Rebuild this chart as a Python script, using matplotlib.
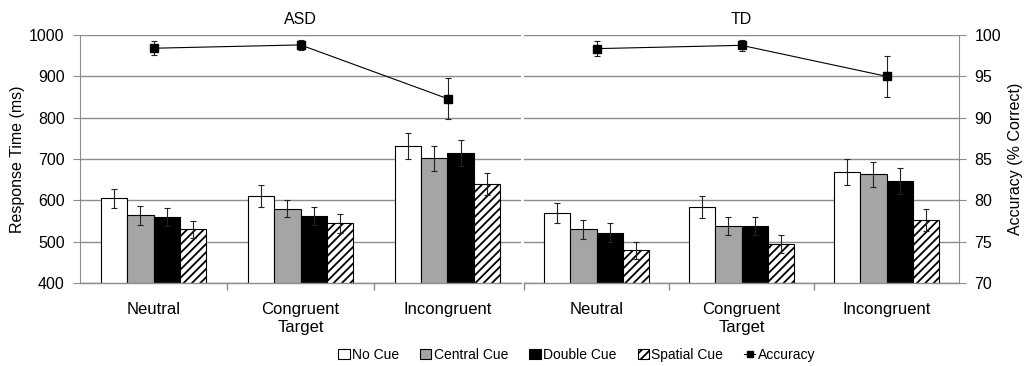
import matplotlib.pyplot as plt
from matplotlib.patches import Patch
from matplotlib.lines import Line2D

plt.rcParams['font.family'] = ['Liberation Sans', 'DejaVu Sans']
plt.rcParams['hatch.linewidth'] = 1.3

# data
groups = ['ASD', 'TD']
conditions = ['Neutral', 'Congruent\nTarget', 'Incongruent']
cues = ['No Cue', 'Central Cue', 'Double Cue', 'Spatial Cue']

# response time (ms), per cue: [Neutral, Congruent, Incongruent]
asd_rt = [[605, 611, 732], [564, 580, 702], [560, 562, 714], [530, 544, 639]]
asd_rt_err = [[23, 27, 32], [23, 21, 30], [22, 22, 31], [21, 22, 26]]
td_rt = [[569, 584, 668], [530, 538, 663], [521, 538, 647], [479, 495, 552]]
td_rt_err = [[25, 26, 32], [23, 22, 30], [23, 22, 31], [21, 22, 26]]

# accuracy (% correct)
asd_acc = [98.4, 98.8, 92.3]
asd_acc_err = [0.85, 0.65, 2.5]
td_acc = [98.35, 98.75, 95.0]
td_acc_err = [0.87, 0.65, 2.5]

colors = ['white', '#a5a5a5', 'black', 'white']
hatches = [None, None, None, '////']
grid_c = '#8c8c8c'

fig = plt.figure(figsize=(10.24, 3.66), dpi=100)
W, H = 1024, 366
bottom = (H - 283) / H
height = 248 / H
ax_l = fig.add_axes([80 / W, bottom, (521 - 80) / W, height])
ax_r = fig.add_axes([524 / W, bottom, (959 - 524) / W, height])

panels = [(ax_l, 'ASD', asd_rt, asd_rt_err, asd_acc, asd_acc_err),
          (ax_r, 'TD', td_rt, td_rt_err, td_acc, td_acc_err)]

bw = 0.18
x = [0, 1, 2]
for ax, title, rt, rt_err, acc, acc_err in panels:
    for i in range(4):
        pos = [c + (i - 1.5) * bw for c in x]
        ax.bar(pos, rt[i], bw, color=colors[i], edgecolor='black', linewidth=0.8,
               hatch=hatches[i], zorder=2)
        ax.errorbar(pos, rt[i], yerr=rt_err[i], fmt='none', ecolor='#222222',
                    elinewidth=0.8, capsize=2.5, capthick=0.8, zorder=3)
    ax.set_ylim(400, 1000)
    ax.set_xlim(-0.5, 2.5)
    ax.set_yticks(range(400, 1001, 100))
    ax.yaxis.grid(True, color=grid_c, linewidth=1.0)
    ax.set_axisbelow(True)
    for s in ['top', 'right', 'left']:
        ax.spines[s].set_visible(False)
    ax.spines['bottom'].set_color(grid_c)
    ax.spines['bottom'].set_linewidth(1.0)
    ax.set_xticks(x, conditions, minor=True)
    ax.tick_params(axis='x', which='minor', length=0, pad=14, labelsize=12)
    ax.tick_params(axis='x', which='major', length=5, color=grid_c, width=1.0)
    ax.set_title(title, fontsize=11.5, pad=8)

    tw = ax.twinx()
    tw.set_ylim(70, 100)
    tw.errorbar(x, acc, yerr=acc_err, color='black', linewidth=0.8, marker='s',
                markersize=6, elinewidth=0.8, ecolor='#222222', capsize=2.5,
                capthick=0.8, zorder=4)
    for s in ['top', 'left', 'bottom', 'right']:
        tw.spines[s].set_visible(False)
    tw.set_xlim(-0.5, 2.5)
    if ax is ax_l:
        tw.set_yticks([])
    else:
        tw.set_yticks(range(70, 101, 5))
        tw.spines['right'].set_visible(True)
        tw.spines['right'].set_color(grid_c)
        tw.tick_params(axis='y', length=5, color=grid_c, labelsize=11.5, pad=6)
        tw.set_ylabel('Accuracy (% Correct)', fontsize=11.5, labelpad=5)

ax_l.set_xticks([0.5, 1.5], ['', ''])
ax_r.set_xticks([-0.5, 0.5, 1.5], ['', '', ''])

ax_l.spines['left'].set_visible(True)
ax_l.spines['left'].set_color(grid_c)
ax_l.tick_params(axis='y', length=5, color=grid_c, labelsize=11.5, pad=6)
ax_l.set_ylabel('Response Time (ms)', fontsize=11.5, labelpad=3)
ax_r.tick_params(axis='y', length=0, labelleft=False)

handles = [Patch(facecolor=colors[i], edgecolor='black', linewidth=0.8,
                 hatch=hatches[i], label=cues[i]) for i in range(4)]
handles.append(Line2D([], [], color='black', marker='s', markersize=5,
                      linewidth=0.8, label='Accuracy'))
fig.legend(handles=handles, loc='center', bbox_to_anchor=(577 / W, 1 - 355 / H),
           ncol=5, frameon=False, fontsize=10, handlelength=0.8, handleheight=0.8,
           handletextpad=0.2, columnspacing=1.5)

fig.savefig('out.png', dpi=100)
